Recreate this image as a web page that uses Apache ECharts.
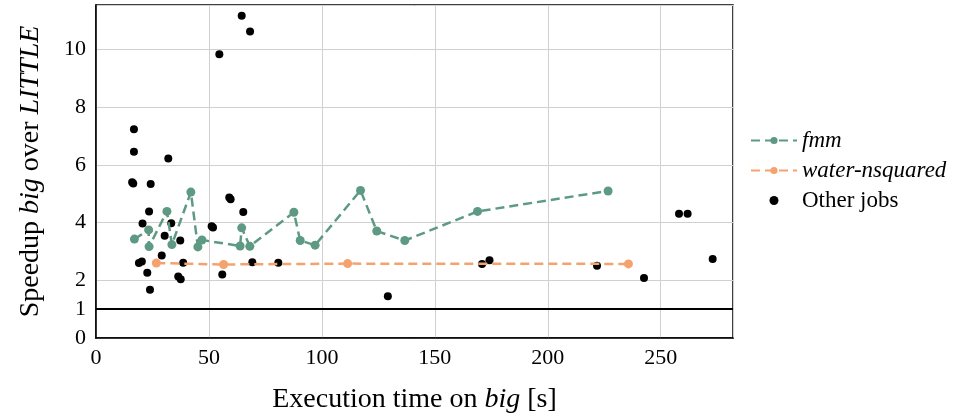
<!DOCTYPE html>
<html>
<head>
<meta charset="utf-8">
<script src="https://cdn.jsdelivr.net/npm/echarts@6/dist/echarts.min.js"></script>
<style>
  html, body { margin: 0; padding: 0; background: #fff; }
  #chart { width: 954px; height: 419px; }
</style>
</head>
<body>
<div id="chart"></div>
<script>
// execution time on big [s] and speedup
const fmmTime = [17.0, 23.3, 23.5, 31.4, 33.6, 42.0, 45.1, 46.9, 63.8, 64.5, 68.1, 87.6, 90.4, 97.0, 117.1, 124.3, 136.7, 168.9, 226.7];
const fmmSpeedup = [3.43, 3.75, 3.17, 4.39, 3.24, 5.06, 3.16, 3.40, 3.19, 3.82, 3.18, 4.36, 3.38, 3.22, 5.12, 3.71, 3.38, 4.39, 5.10];

const waterTime = [26.7, 56.5, 111.4, 235.7];
const waterSpeedup = [2.60, 2.55, 2.58, 2.57];

const otherTime = [64.5, 68.2, 54.6, 16.8, 16.8, 32.0, 16.0, 16.5, 24.2, 59.0, 59.6, 23.5, 65.2, 20.6, 33.3, 51.2, 51.8,
  30.4, 37.3, 29.1, 19.0, 20.3, 38.6, 69.2, 80.7, 22.7, 36.4, 37.5, 55.9, 23.9,
  129.2, 170.9, 174.2, 221.8, 242.6, 258.1, 261.9, 273.0];
const otherSpeedup = [11.18, 10.63, 9.84, 7.24, 6.46, 6.23, 5.40, 5.36, 5.34, 4.87, 4.81, 4.39, 4.37, 3.97, 3.98, 3.88, 3.83,
  3.55, 3.38, 2.86, 2.60, 2.65, 2.61, 2.63, 2.61, 2.26, 2.13, 2.04, 2.20, 1.67,
  1.45, 2.57, 2.70, 2.51, 2.08, 4.31, 4.31, 2.74];

const xTicks = [0, 50, 100, 150, 200, 250];
const yTicks = [0, 1, 2, 4, 6, 8, 10];
const baseline = 1;

const pairs = (xs, ys) => xs.map((x, i) => [x, ys[i]]);

const font = 'Liberation Serif';
const green = '#5e9a83';
const orange = '#f5a26f';
const italic = (size) => ({ i: { fontFamily: font, fontSize: size, fontStyle: 'italic', color: '#000' } });

const chart = echarts.init(document.getElementById('chart'));
chart.setOption({
  animation: false,
  textStyle: { fontFamily: font, color: '#000' },
  grid: { left: 96, right: 221, top: 5, bottom: 80, show: true, borderColor: '#000', borderWidth: 1.5, backgroundColor: 'transparent' },
  legend: {
    orient: 'vertical',
    left: 745,
    top: 124,
    itemGap: 7,
    itemWidth: 46,
    itemHeight: 9,
    data: ['fmm', 'water-nsquared', 'Other jobs'],
    formatter: (name) => (name === 'Other jobs' ? name : '{i|' + name + '}'),
    textStyle: { fontFamily: font, fontSize: 23, color: '#000', rich: italic(23) }
  },
  xAxis: {
    type: 'value',
    min: 0,
    max: 282,
    interval: 50,
    name: 'Execution time on {i|big} [s]',
    nameLocation: 'middle',
    nameGap: 48,
    nameTextStyle: { fontFamily: font, fontSize: 28, color: '#000', rich: italic(28) },
    axisLine: { lineStyle: { color: '#000', width: 1.5 } },
    axisTick: { show: false },
    axisLabel: {
      fontFamily: font, fontSize: 22, color: '#000', margin: 9, showMaxLabel: false,
      formatter: (v) => (xTicks.includes(v) ? String(v) : '')
    },
    splitLine: { lineStyle: { color: '#d0d0d0', width: 1 } }
  },
  yAxis: {
    type: 'value',
    min: 0,
    max: 11.55,
    interval: 1,
    name: 'Speedup {i|big} over {i|LITTLE}',
    nameLocation: 'middle',
    nameGap: 51,
    nameTextStyle: { fontFamily: font, fontSize: 28, color: '#000', rich: italic(28) },
    axisLine: { lineStyle: { color: '#000', width: 1.5 } },
    axisTick: { show: false },
    axisLabel: {
      fontFamily: font, fontSize: 22, color: '#000', margin: 10, showMaxLabel: false,
      formatter: (v) => (yTicks.includes(v) ? String(v) : '')
    },
    splitLine: { lineStyle: { color: ['#d0d0d0', 'rgba(0,0,0,0)'], width: 1 } }
  },
  series: [
    {
      name: 'Other jobs',
      type: 'scatter',
      data: pairs(otherTime, otherSpeedup),
      symbolSize: 8,
      itemStyle: { color: '#000', opacity: 1 },
      z: 3,
      markLine: {
        silent: true,
        symbol: 'none',
        label: { show: false },
        lineStyle: { color: '#000', width: 2, type: 'solid' },
        data: [{ yAxis: baseline }]
      }
    },
    {
      name: 'water-nsquared',
      type: 'line',
      data: pairs(waterTime, waterSpeedup),
      symbol: 'circle',
      symbolSize: 9,
      itemStyle: { color: orange },
      lineStyle: { color: orange, width: 2.5, type: [9, 5] },
      z: 4
    },
    {
      name: 'fmm',
      type: 'line',
      data: pairs(fmmTime, fmmSpeedup),
      symbol: 'circle',
      symbolSize: 9,
      itemStyle: { color: green },
      lineStyle: { color: green, width: 2.5, type: [9, 5] },
      z: 5
    }
  ]
});
</script>
</body>
</html>
